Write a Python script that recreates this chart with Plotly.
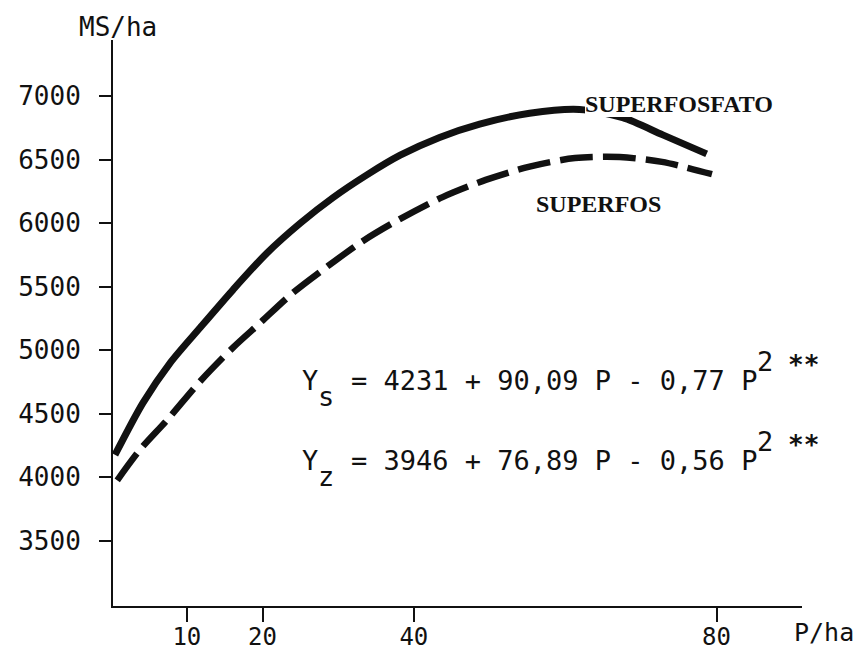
import plotly.graph_objects as go

# Dry matter yield (MS/ha) against phosphorus dose (P/ha) for the two sources
p_superfosfato = [0.5, 4.2, 7.8, 11.8, 16.1, 20.6, 25.0, 29.3, 33.8, 38.2,
                  43.4, 48.7, 55.3, 61.9, 67.6, 72.9, 78.7]
ms_superfosfato = [4175, 4585, 4900, 5180, 5475, 5765, 6000, 6200, 6380, 6535,
                   6675, 6780, 6865, 6895, 6830, 6695, 6545]

p_superfos = [0.8, 3.8, 7.4, 11.7, 16.1, 19.7, 24.0, 28.5, 32.9, 37.2,
              43.8, 49.5, 55.3, 61.3, 67.2, 72.8, 79.4]
ms_superfos = [3975, 4215, 4450, 4750, 5020, 5215, 5450, 5655, 5845, 6000,
               6205, 6340, 6445, 6512, 6520, 6482, 6385]

x_ticks = [10, 20, 40, 80]
y_ticks = [3500, 4000, 4500, 5000, 5500, 6000, 6500, 7000]

name_s = "SUPERFOSFATO"
name_z = "SUPERFOS"
eq_s = ["Y", "s", "= 4231 + 90,09 P - 0,77 P", "2", "**"]
eq_z = ["Y", "z", "= 3946 + 76,89 P - 0,56 P", "2", "**"]
y_title = "MS/ha"
x_title = "P/ha"

W, H = 861, 652
L, R, T, B = 113, 802, 40, 606
INK = "#111111"
MONO = "DejaVu Sans Mono"
SERIF = "Liberation Serif"


def fx(px):
    return (px - L) / (R - L)


def fy(py):
    return (B - py) / (B - T)


fig = go.Figure()
fig.add_trace(go.Scatter(
    x=p_superfosfato, y=ms_superfosfato, mode="lines",
    line=dict(color=INK, width=7, shape="spline", smoothing=0.8),
    hoverinfo="skip"))
fig.add_trace(go.Scatter(
    x=p_superfos, y=ms_superfos, mode="lines",
    line=dict(color=INK, width=6.5, shape="spline", smoothing=0.8,
              dash="33px,10px"),
    hoverinfo="skip"))

ann = []


def add_text(text, px, py, size, family=MONO, anchor="left", bg=None):
    d = dict(text=text, x=fx(px), y=fy(py), xref="paper", yref="paper",
             xanchor=anchor, yanchor="middle", showarrow=False,
             borderpad=0, borderwidth=0,
             font=dict(family=family, size=size, color=INK))
    if bg:
        d["bgcolor"] = bg
    ann.append(d)


# regression equations, typewriter style with shifted sub/superscripts
pitch = 0.602 * 27
x0 = 302
for eq, base in ((eq_s, 390), (eq_z, 470)):
    add_text(eq[0], x0, base - 9.3, 27)
    add_text(eq[1], x0 + pitch, base + 16 - 9.3, 27)
    add_text(eq[2], x0 + 3 * pitch, base - 9.3, 27)
    add_text(eq[3], x0 + 28 * pitch, base - 19 - 9.3, 27)
    add_text("<b>%s</b>" % eq[4], x0 + 30 * pitch - 2, base - 16 - 9, 26)

# curve labels
add_text("<b>%s</b>" % name_s, 585, 104, 24, family=SERIF, bg="white")
add_text("<b>%s</b>" % name_z, 536, 204, 24, family=SERIF)

# axis titles
add_text(y_title, 79, 27, 26)
add_text(x_title, 794, 632, 25)

fig.update_layout(
    width=W, height=H,
    margin=dict(l=L, r=W - R, t=T, b=H - B, pad=0, autoexpand=False),
    paper_bgcolor="white", plot_bgcolor="white",
    showlegend=False,
    annotations=ann,
    xaxis=dict(range=[0.24, 91.3], tickvals=x_ticks, ticks="outside",
               ticklen=14, tickwidth=2, tickcolor=INK, automargin=False,
               showline=True, linewidth=2, linecolor=INK,
               showgrid=False, zeroline=False, ticklabelstandoff=-6,
               tickfont=dict(family=MONO, size=24, color=INK)),
    yaxis=dict(range=[2985, 7442], tickvals=y_ticks, ticks="outside",
               ticklen=12, tickwidth=2, tickcolor=INK, automargin=False,
               showline=True, linewidth=2, linecolor=INK,
               showgrid=False, zeroline=False, ticklabelstandoff=13,
               tickfont=dict(family=MONO, size=26, color=INK)),
)

fig.write_html("out.html")
